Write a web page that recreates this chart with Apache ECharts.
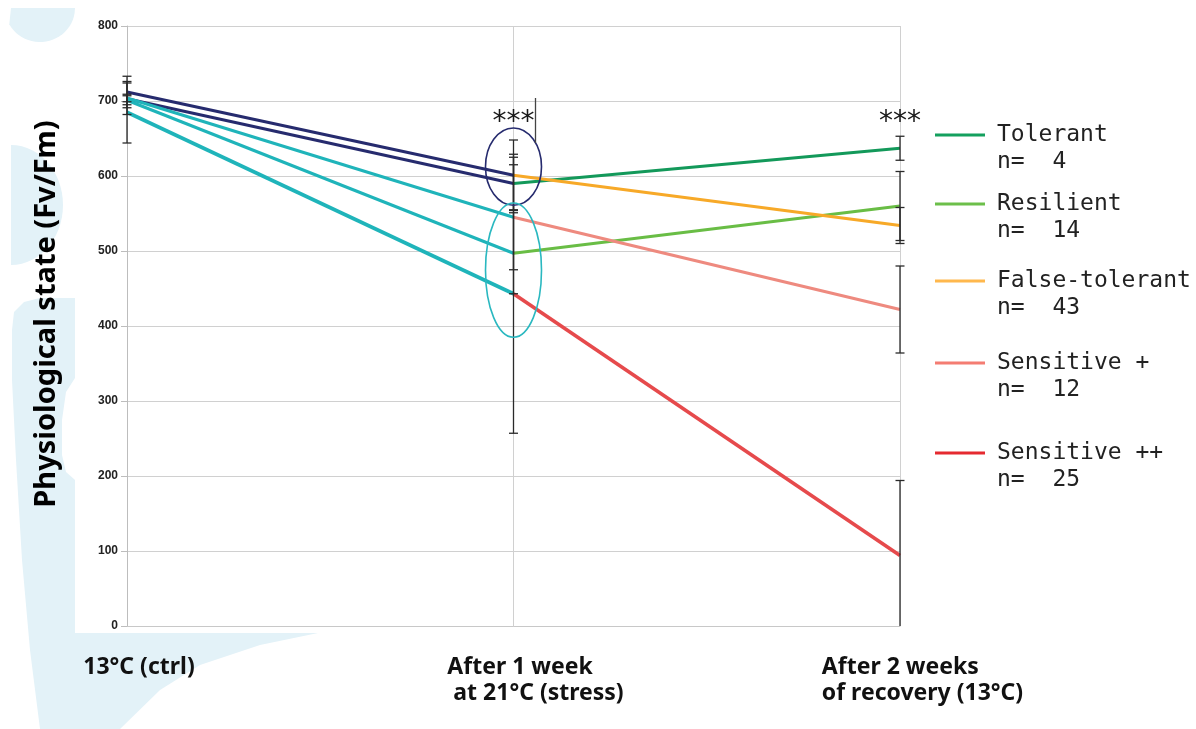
<!DOCTYPE html>
<html><head><meta charset="utf-8">
<script src="https://cdn.jsdelivr.net/npm/echarts@6/dist/echarts.min.js"></script>
<style>html,body{margin:0;padding:0;background:#fff}#c{width:1196px;height:729px}</style>
</head><body><div id="c"></div>
<script>
// ---------------- data ----------------
const categories = ['13°C (ctrl)', 'After 1 week\n at 21°C (stress)', 'After 2 weeks\nof recovery (13°C)'];
const yMin = 0, yMax = 800, yInterval = 100;
const groupNames = ['Tolerant', 'Resilient', 'False-tolerant', 'Sensitive +', 'Sensitive ++'];
const groupN = [4, 14, 43, 12, 25];
const tolerant = [703, 590, 637];
const tolerantErr = [21, 35, 16];
const resilient = [701, 497, 560];
const resilientErr = [6, 54, 46];
const falseTolerant = [712, 601, 534];
const falseTolerantErr = [21, 47, 24];
const sensitive1 = [704, 545, 422];
const sensitive1Err = [5, 70, 58];
const sensitive2 = [685, 443, 94];
const sensitive2Err = [41, 186, 100];
// annotations: significance stars, highlight ellipses (category index, value range)
const starMarks = [[1, 671], [2, 671]];
const ellipseMarks = [[1, 561, 664], [1, 385, 564]];
const bracketMark = [1, 644, 704];

// ---------------- styles ----------------
const groupValues = [tolerant, resilient, falseTolerant, sensitive1, sensitive2];
const groupErrs = [tolerantErr, resilientErr, falseTolerantErr, sensitive1Err, sensitive2Err];
const navy = '#262b6e', teal = '#1fb4ba';
const stressColors = [navy, teal, navy, teal, teal];
const groupColors = ['#13995a', '#69bd45', '#f7a928', '#ee8a7f', '#e64a4c'];
const legendColors = ['#14a05e', '#6cbf4a', '#ffb84d', '#f47c72', '#e52a30'];
const lineWidths = [3, 3, 3, 3, 3.6];
const legendCenters = [135, 204, 281, 363, 453];
const labelFont = '"Noto Sans", "Open Sans", sans-serif';

const chart = echarts.init(document.getElementById('c'), null, {renderer: 'canvas'});

const series = [];
groupNames.forEach((name, i) => {
  const v = groupValues[i];
  series.push({
    name: name + ' (stress)', type: 'line', data: [v[0], v[1], '-'],
    symbol: 'none', lineStyle: {color: stressColors[i], width: lineWidths[i]},
    itemStyle: {color: stressColors[i]}, z: 3, silent: true
  });
});
groupNames.forEach((name, i) => {
  const v = groupValues[i];
  series.push({
    name: name, type: 'line', data: ['-', v[1], v[2]],
    symbol: 'none', lineStyle: {color: groupColors[i], width: lineWidths[i]},
    itemStyle: {color: groupColors[i]}, z: 4, silent: true
  });
});
const errData = [];
groupValues.forEach((v, i) => {
  v.forEach((val, k) => errData.push([k, val - groupErrs[i][k], val + groupErrs[i][k]]));
});
series.push({
  name: 'error', type: 'custom', z: 6, silent: true,
  data: errData,
  encode: {x: 0, y: [1, 2]},
  renderItem(params, api) {
    const x = api.value(0), lo = api.value(1), hi = api.value(2);
    const pHi = api.coord([x, hi]);
    const pLo = api.coord([x, Math.max(lo, yMin)]);
    const w = 4.5, st = {stroke: '#2a2a2a', lineWidth: 1.3};
    const ch = [
      {type: 'line', shape: {x1: pHi[0], y1: pHi[1], x2: pLo[0], y2: pLo[1]}, style: st},
      {type: 'line', shape: {x1: pHi[0] - w, y1: pHi[1], x2: pHi[0] + w, y2: pHi[1]}, style: st}
    ];
    if (lo >= yMin) ch.push({type: 'line', shape: {x1: pLo[0] - w, y1: pLo[1], x2: pLo[0] + w, y2: pLo[1]}, style: st});
    return {type: 'group', children: ch};
  }
});

const catPadding = [[0, 0, 0, 24], [0, 0, 0, 44], [0, 0, 0, 45]];
const xData = categories.map((c, i) => ({value: c, textStyle: {padding: catPadding[i]}}));

const legends = groupNames.map((name, i) => ({
  data: [name], left: 935, top: legendCenters[i] - 40.5, orient: 'vertical',
  icon: 'rect', itemWidth: 50, itemHeight: 3, padding: 0, selectedMode: false,
  itemStyle: {color: legendColors[i]},
  formatter: n => '\n' + n + '\nn=  ' + groupN[i],
  textStyle: {fontFamily: '"DejaVu Sans Mono", monospace', fontSize: 23, color: '#222', lineHeight: 27, padding: [0, 0, 0, 7]}
}));

chart.setOption({
  animation: false,
  backgroundColor: '#fff',
  grid: {left: 127, right: 296, top: 26, bottom: 103, containLabel: false},
  legend: legends,
  xAxis: {
    type: 'category', data: xData, boundaryGap: false,
    axisLine: {lineStyle: {color: '#c8c8c8', width: 1}},
    axisTick: {show: false},
    splitLine: {show: true, lineStyle: {color: '#d0d0d0', width: 1}},
    axisLabel: {
      interval: 0, margin: 28, align: 'center',
      formatter: v => v.split('\n').map(l => '{a|' + l + '}').join('\n'),
      rich: {a: {align: 'left', color: '#111', fontFamily: labelFont, fontWeight: 'bold', fontSize: 23, lineHeight: 26}}
    }
  },
  yAxis: {
    type: 'value', min: yMin, max: yMax, interval: yInterval,
    name: 'Physiological state (Fv/Fm)', nameLocation: 'middle', nameGap: 66,
    nameTextStyle: {fontFamily: labelFont, fontWeight: 'bold', fontSize: 29, color: '#000', padding: [0, 0, 0, 24]},
    axisLine: {show: true, lineStyle: {color: '#bdbdbd', width: 1}},
    axisTick: {show: true, inside: false, length: 6, lineStyle: {color: '#bdbdbd'}},
    splitLine: {lineStyle: {color: '#d0d0d0', width: 1}},
    axisLabel: {margin: 9, color: '#222', fontFamily: '"Liberation Sans", Arial, sans-serif', fontWeight: 'bold', fontSize: 12}
  },
  series: series
});

// ---------------- decorations & annotations ----------------
function ellipsePts(cx, cy, rx, ry, a0, a1, n) {
  const pts = [];
  for (let k = 0; k <= n; k++) {
    const a = a0 + (a1 - a0) * k / n;
    pts.push([cx + rx * Math.cos(a), cy + ry * Math.sin(a)]);
  }
  return pts;
}
const bg = '#e3f2f8';
const blob1 = [[11, 8], [75, 8]].concat(ellipsePts(40, 8, 35, 34, 0.15, Math.PI - 0.5, 24));
const blob2 = ellipsePts(11, 205, 52, 60, -Math.PI / 2, Math.PI / 2, 30);
const blob3 = [[12, 330], [14, 312], [24, 302], [40, 298], [75, 298], [75, 378], [66, 392], [62, 420], [62, 455], [66, 472], [75, 480],
  [75, 633], [318, 633], [260, 645], [200, 665], [160, 690], [120, 729], [40, 729], [30, 650], [22, 560], [16, 460], [12, 380]];

const toPx = (c, v) => chart.convertToPixel({gridIndex: 0}, [c, v]);
const gfx = [
  {type: 'polygon', shape: {points: blob1}, style: {fill: bg}, z: -10, silent: true},
  {type: 'polygon', shape: {points: blob2}, style: {fill: bg}, z: -10, silent: true},
  {type: 'polygon', shape: {points: blob3}, style: {fill: bg}, z: -10, silent: true}
];
starMarks.forEach(([c, v]) => {
  const p = toPx(c, v);
  gfx.push({type: 'text', x: p[0], y: p[1], z: 10, silent: true,
    style: {text: '***', fill: '#1a1a1a', font: '28px "DejaVu Sans", sans-serif', align: 'center', verticalAlign: 'middle'}});
});
const ellColors = [navy, '#2ab8c0'];
ellipseMarks.forEach(([c, lo, hi], i) => {
  const pLo = toPx(c, lo), pHi = toPx(c, hi);
  gfx.push({type: 'ellipse', z: 10, silent: true,
    shape: {cx: pLo[0], cy: (pLo[1] + pHi[1]) / 2, rx: 28, ry: Math.abs(pLo[1] - pHi[1]) / 2},
    style: {fill: 'none', stroke: ellColors[i], lineWidth: 1.6}});
});
{
  const pA = toPx(bracketMark[0], bracketMark[1]), pB = toPx(bracketMark[0], bracketMark[2]);
  gfx.push({type: 'line', z: 10, silent: true,
    shape: {x1: pA[0] + 22, y1: pA[1], x2: pB[0] + 22, y2: pB[1]},
    style: {stroke: '#444', lineWidth: 1.3}});
}
chart.setOption({graphic: {elements: gfx}});
</script>
</body></html>
